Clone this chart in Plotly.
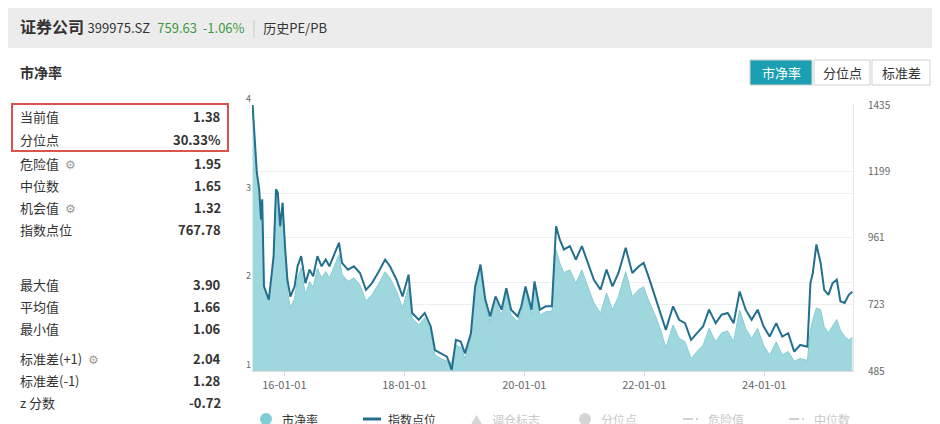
import plotly.graph_objects as go

W, H = 940, 424
# decimal years
t = [2015.47,2015.51,2015.54,2015.58,2015.61,2015.63,2015.66,2015.70,2015.74,2015.79,2015.82,2015.86,2015.89,2015.93,2015.97,
     2016.01,2016.05,2016.10,2016.17,2016.22,2016.28,2016.35,2016.42,2016.48,2016.55,2016.62,2016.69,2016.75,2016.86,2016.91,2016.96,
     2017.06,2017.16,2017.26,2017.36,2017.46,2017.56,2017.68,2017.76,2017.87,2017.97,2018.07,2018.13,2018.24,2018.34,2018.44,2018.51,
     2018.61,2018.71,2018.79,2018.86,2018.94,2019.01,2019.11,2019.18,2019.27,2019.35,2019.43,2019.52,2019.62,2019.70,2019.78,2019.89,
     2019.95,2020.02,2020.12,2020.17,2020.26,2020.36,2020.46,2020.53,2020.59,2020.66,2020.76,2020.86,2020.96,2021.06,2021.16,2021.27,
     2021.37,2021.47,2021.57,2021.69,2021.80,2021.91,2021.99,2022.07,2022.18,2022.28,2022.36,2022.48,2022.58,2022.68,2022.78,2022.88,
     2022.98,2023.08,2023.19,2023.29,2023.39,2023.49,2023.59,2023.69,2023.79,2023.89,2023.99,2024.09,2024.20,2024.30,2024.40,2024.50,
     2024.60,2024.72,2024.77,2024.81,2024.87,2024.94,2025.00,2025.07,2025.14,2025.21,2025.27,2025.34,2025.41,2025.47]
index_pts = [1435,1277,1194,1134,1026,1098,787,763,740,835,895,1134,1122,1002,1086,
     931,811,751,787,859,895,799,847,823,895,859,883,859,919,943,871,
     847,859,835,775,799,835,883,859,811,751,829,692,668,692,644,560,
     548,536,489,596,590,548,620,787,865,740,680,751,704,781,704,680,
     716,787,704,805,704,716,716,1002,955,919,931,883,931,871,811,775,
     847,787,835,925,835,859,871,823,751,692,632,716,668,656,596,620,
     644,704,656,686,692,656,769,704,668,704,644,608,656,608,620,554,
     578,572,799,835,937,871,775,757,799,811,734,728,757,768]
pb = [3.98,3.48,3.22,3.03,2.69,2.92,1.94,1.86,1.79,2.09,2.28,3.03,2.99,2.61,2.88,
     2.39,1.90,1.71,1.82,2.05,2.16,1.86,2.01,1.94,2.16,2.05,2.12,2.05,2.24,2.31,2.09,
     2.01,2.05,1.97,1.79,1.86,1.97,2.12,2.05,1.90,1.71,1.95,1.60,1.52,1.60,1.45,1.18,
     1.14,1.11,1.09,1.29,1.27,1.14,1.37,1.90,2.14,1.75,1.56,1.79,1.63,1.88,1.63,1.56,
     1.67,1.90,1.63,1.95,1.63,1.67,1.67,2.37,2.22,2.11,2.14,1.99,2.14,1.95,1.77,1.65,
     1.88,1.69,1.84,2.12,1.84,1.92,1.95,1.80,1.63,1.45,1.26,1.52,1.37,1.33,1.14,1.22,
     1.29,1.48,1.33,1.43,1.45,1.33,1.69,1.48,1.37,1.48,1.29,1.18,1.33,1.18,1.22,1.11,
     1.14,1.12,1.46,1.58,1.71,1.69,1.50,1.43,1.50,1.58,1.46,1.39,1.35,1.38]
x_tickvals = [2016, 2018, 2020, 2022, 2024]
x_ticktext = ["16-01-01", "18-01-01", "20-01-01", "22-01-01", "24-01-01"]
left_ticks = [1, 2, 3, 4]
right_ticks = [485, 723, 961, 1199, 1435]
stat_labels = ["当前值", "分位点", "危险值", "中位数", "机会值", "指数点位", "最大值", "平均值", "最小值", "标准差(+1)", "标准差(-1)", "z 分数"]
stat_values = ["1.38", "30.33%", "1.95", "1.65", "1.32", "767.78", "3.90", "1.66", "1.06", "2.04", "1.28", "-0.72"]
stat_gear = [False, False, True, False, True, False, False, False, False, True, False, False]
stat_y = [109, 131, 155, 177, 199, 221, 276, 298, 320, 350, 372, 394]

FONT = "Noto Sans CJK SC, Noto Sans, sans-serif"
def px(x): return x / W
def py(y): return 1 - y / H

fig = go.Figure()
fig.add_trace(go.Scatter(x=t, y=pb, mode="lines", fill="tozeroy", line=dict(color="#86cdd5", width=1),
                         fillcolor="#9fd7de", name="市净率", hoverinfo="skip"))
fig.add_trace(go.Scatter(x=t, y=index_pts, mode="lines", yaxis="y2", line=dict(color="#236f8e", width=2),
                         name="指数点位"))

shapes, ann = [], []
shapes.append(dict(type="rect", xref="paper", yref="paper", x0=0, x1=1, y0=py(40), y1=1,
                   fillcolor="#ececec", line_width=0, layer="below"))
ann.append(dict(xref="paper", yref="paper", x=px(10), y=py(18), xanchor="left", yanchor="middle", showarrow=False,
                text="<b>证券公司</b> <span style='font-size:13px'>399975.SZ</span>  "
                     "<span style='color:#3f9a45;font-size:13px'>759.63  -1.06%</span>  "
                     "<span style='color:#cccccc'>|</span>  <span style='font-size:13px'>历史PE/PB</span>",
                font=dict(size=16, color="#333333", family=FONT)))
ann.append(dict(xref="paper", yref="paper", x=px(10), y=py(64), xanchor="left", yanchor="middle", showarrow=False,
                text="<b>市净率</b>", font=dict(size=14, color="#333333", family=FONT)))
# buttons
for (x0, x1, lab, act) in [(742, 804, "市净率", True), (806, 862, "分位点", False), (864, 922, "标准差", False)]:
    shapes.append(dict(type="rect", xref="paper", yref="paper", x0=px(x0), x1=px(x1), y0=py(77), y1=py(52),
                       fillcolor="#1c9fb3" if act else "white", line=dict(color="#cfcfcf", width=1)))
    ann.append(dict(xref="paper", yref="paper", x=px((x0 + x1) / 2), y=py(64.5), xanchor="center", yanchor="middle",
                    showarrow=False, text=lab, font=dict(size=13, color="white" if act else "#333333", family=FONT)))
# stats
for lab, val, g, yy in zip(stat_labels, stat_values, stat_gear, stat_y):
    txt = lab + ("  <span style='color:#999999;font-size:12px'>⚙</span>" if g else "")
    ann.append(dict(xref="paper", yref="paper", x=px(10), y=py(yy), xanchor="left", yanchor="middle", showarrow=False,
                    text=txt, font=dict(size=13, color="#333333", family=FONT)))
    ann.append(dict(xref="paper", yref="paper", x=px(215), y=py(yy), xanchor="right", yanchor="middle", showarrow=False,
                    text="<b>" + val + "</b>", font=dict(size=13, color="#333333", family=FONT)))
shapes.append(dict(type="rect", xref="paper", yref="paper", x0=px(4), x1=px(220), y0=py(143), y1=py(96),
                   line=dict(color="#d9534f", width=2)))
# legend
leg = [(258, "circle", "#7fcdd6", "市净率", "#333333"), (364, "line", "#236f8e", "指数点位", "#333333"),
       (468, "tri", "#d5d5d5", "调仓标志", "#c8c8c8"), (577, "circle", "#d5d5d5", "分位点", "#c8c8c8"),
       (684, "dash", "#d0d0d0", "危险值", "#c8c8c8"), (790, "dash", "#d0d0d0", "中位数", "#c8c8c8")]
ly = 411
for x, kind, col, lab, tcol in leg:
    if kind == "circle":
        shapes.append(dict(type="circle", xref="paper", yref="paper", x0=px(x - 6), x1=px(x + 6), y0=py(ly + 6), y1=py(ly - 6),
                           fillcolor=col, line_width=0))
    elif kind == "line":
        shapes.append(dict(type="line", xref="paper", yref="paper", x0=px(x - 9), x1=px(x + 9), y0=py(ly), y1=py(ly),
                           line=dict(color=col, width=3)))
    elif kind == "tri":
        ann.append(dict(xref="paper", yref="paper", x=px(x), y=py(ly), xanchor="center", yanchor="middle",
                        showarrow=False, text="▲", font=dict(size=11, color=col)))
    else:
        shapes.append(dict(type="line", xref="paper", yref="paper", x0=px(x - 9), x1=px(x + 1), y0=py(ly), y1=py(ly),
                           line=dict(color=col, width=2)))
        shapes.append(dict(type="line", xref="paper", yref="paper", x0=px(x + 4), x1=px(x + 6), y0=py(ly), y1=py(ly),
                           line=dict(color=col, width=2)))
    ann.append(dict(xref="paper", yref="paper", x=px(x + 14), y=py(ly), xanchor="left", yanchor="middle", showarrow=False,
                    text=lab, font=dict(size=12, color=tcol, family=FONT)))

fig.update_layout(
    width=W, height=H, margin=dict(l=0, r=0, t=0, b=0, pad=0, autoexpand=False),
    paper_bgcolor="white", plot_bgcolor="white",
    showlegend=False, shapes=shapes, annotations=ann, font=dict(family=FONT),
    xaxis=dict(domain=[px(244), px(845)], range=[2015.46, 2025.48], tickvals=x_tickvals, ticktext=x_ticktext,
               showgrid=False, ticks="outside", ticklen=4, tickcolor="#dddddd", showline=True, linecolor="#dddddd",
               tickfont=dict(size=11, color="#666666"), zeroline=False, automargin=False),
    yaxis=dict(domain=[1 - 363 / H, 1 - 97 / H], range=[1, 4], tickvals=left_ticks, showgrid=True, gridcolor="#eeeeee",
               tickfont=dict(size=9, color="#666666"), zeroline=False, ticklabelposition="outside top", automargin=False),
    yaxis2=dict(overlaying="y", side="right", range=[485, 1435], tickvals=right_ticks, showgrid=True, gridcolor="#eeeeee",
                tickfont=dict(size=10, color="#666666"), zeroline=False, showline=True, linecolor="#e6e6e6",
                ticklabelstandoff=12, automargin=False),
)
fig.write_html("out.html")
